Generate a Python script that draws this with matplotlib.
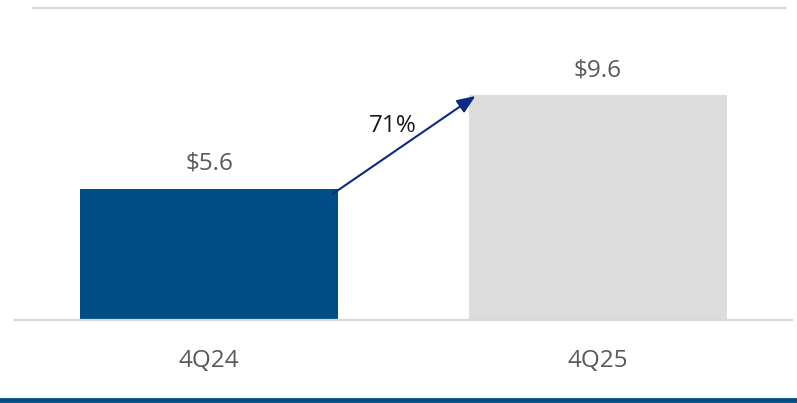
import matplotlib
matplotlib.use("Agg")
import matplotlib.pyplot as plt
from matplotlib.lines import Line2D

categories = ["4Q24", "4Q25"]
values = [5.6, 9.6]
value_labels = ["$5.6", "$9.6"]
growth_label = "71%"

W, H = 797, 403
fig = plt.figure(figsize=(W / 100, H / 100), dpi=100)
plt.rcParams['font.family'] = ['Open Sans', 'DejaVu Sans']

# axes: x 15..792 px, y 8..320 px (from top)
ax = fig.add_axes([15 / W, (H - 320) / H, 777 / W, 312 / H])
colors = ["#004C87", "#DCDCDC"]
x = list(range(len(categories)))
ax.bar(x, values, width=0.664, color=colors, zorder=2)
ax.set_xlim(-0.5, 1.5)
ax.set_ylim(0, 13.33)

for xi, v, lab in zip(x, values, value_labels):
    ax.annotate(lab, (xi, v), xytext=(0, 13.7), textcoords="offset points",
                ha="center", va="baseline", fontsize=17.5, color="#595959")

# growth arrow
ax.annotate("", xy=(0.685, 9.57), xytext=(0.317, 5.38),
            arrowprops=dict(arrowstyle="-|>,head_length=1.1,head_width=0.45", color="#0B2A86",
                            lw=1.5, shrinkA=0, shrinkB=0), zorder=3)
ax.text(0.4736, 8.03, growth_label, ha="center", va="baseline", fontsize=17.5, color="#1A1A1A")

for s in ["top", "right", "left"]:
    ax.spines[s].set_visible(False)
ax.spines["bottom"].set_color("#D9D9D9")
ax.spines["bottom"].set_linewidth(1.6)
ax.set_yticks([])
ax.set_xticks(x)
ax.set_xticklabels(categories, fontsize=17.5, color="#595959")
ax.tick_params(axis="x", length=0, pad=21)

# top gray rule
fig.add_artist(Line2D([33 / W, 785 / W], [(H - 8) / H, (H - 8) / H], color="#D9D9D9", lw=1.6))
# bottom blue rule
fig.add_artist(Line2D([0, 1], [(H - 399.5) / H, (H - 399.5) / H], color="#004C87", lw=3.5))

fig.savefig("out.png", dpi=100)
